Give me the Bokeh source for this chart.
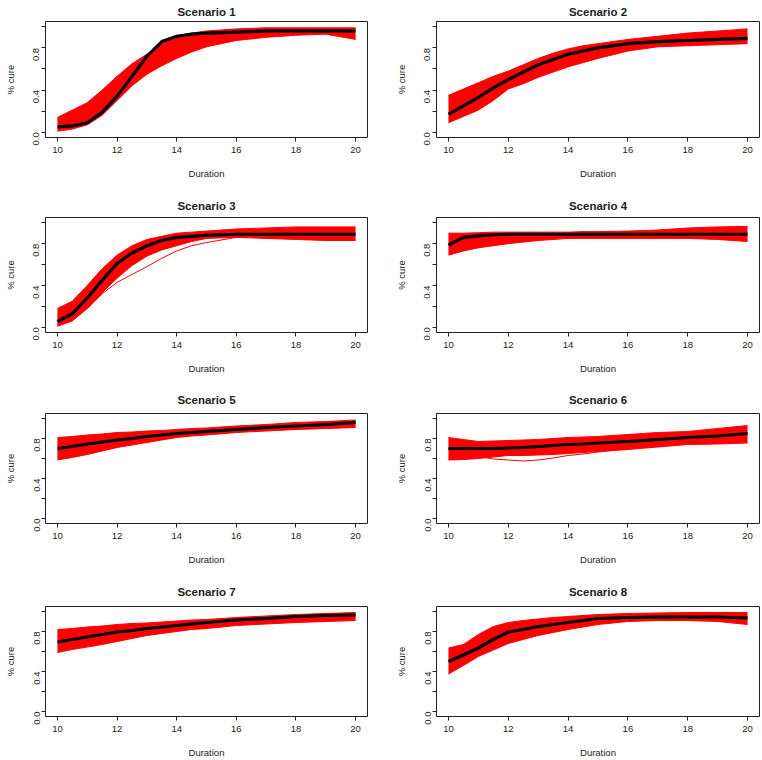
from bokeh.plotting import figure
from bokeh.layouts import column, row
from bokeh.models import FixedTicker, PrintfTickFormatter, Range1d
from bokeh.embed import file_html
from bokeh.resources import INLINE

# ---------------- data ----------------
duration = [10, 10.5, 11, 11.5, 12, 12.5, 13, 13.5, 14, 14.5, 15, 16, 17, 18, 19, 20]

s1_true  = [0.05, 0.06, 0.09, 0.19, 0.34, 0.53, 0.72, 0.86, 0.91, 0.93, 0.94, 0.95, 0.96, 0.96, 0.96, 0.96]
s1_upper = [0.14, 0.21, 0.28, 0.40, 0.53, 0.65, 0.74, 0.84, 0.91, 0.94, 0.96, 0.98, 0.99, 0.99, 0.99, 0.99]
s1_lower = [0.01, 0.03, 0.07, 0.16, 0.30, 0.44, 0.55, 0.63, 0.70, 0.76, 0.81, 0.87, 0.90, 0.92, 0.93, 0.88]

s2_true  = [0.17, 0.25, 0.33, 0.42, 0.50, 0.57, 0.64, 0.69, 0.74, 0.77, 0.80, 0.84, 0.86, 0.87, 0.88, 0.89]
s2_upper = [0.35, 0.41, 0.47, 0.53, 0.58, 0.64, 0.70, 0.75, 0.79, 0.82, 0.84, 0.88, 0.91, 0.94, 0.96, 0.98]
s2_lower = [0.09, 0.15, 0.21, 0.30, 0.41, 0.46, 0.52, 0.57, 0.62, 0.66, 0.70, 0.77, 0.81, 0.82, 0.83, 0.84]

s3_true  = [0.055, 0.13, 0.28, 0.45, 0.61, 0.71, 0.78, 0.83, 0.86, 0.87, 0.88, 0.89, 0.89, 0.89, 0.89, 0.89]
s3_upper = [0.18, 0.25, 0.40, 0.56, 0.69, 0.78, 0.84, 0.87, 0.90, 0.91, 0.92, 0.94, 0.95, 0.96, 0.96, 0.96]
s3_lower = [0.01, 0.06, 0.18, 0.33, 0.47, 0.59, 0.68, 0.74, 0.78, 0.82, 0.85, 0.86, 0.85, 0.84, 0.83, 0.83]
s3_outlier = [0.03, 0.08, 0.18, 0.32, 0.43, 0.505, 0.58, 0.66, 0.73, 0.78, 0.81, 0.86, 0.88, 0.89, 0.89, 0.89]

s4_true  = [0.785, 0.86, 0.875, 0.885, 0.89, 0.89, 0.89, 0.89, 0.89, 0.89, 0.89, 0.89, 0.89, 0.89, 0.89, 0.89]
s4_upper = [0.90, 0.90, 0.905, 0.91, 0.91, 0.91, 0.91, 0.91, 0.91, 0.915, 0.915, 0.92, 0.93, 0.95, 0.96, 0.965]
s4_lower = [0.69, 0.73, 0.76, 0.78, 0.80, 0.815, 0.83, 0.84, 0.85, 0.85, 0.85, 0.85, 0.85, 0.85, 0.84, 0.82]

s5_true  = [0.70, 0.72, 0.745, 0.765, 0.785, 0.80, 0.82, 0.835, 0.85, 0.86, 0.87, 0.89, 0.91, 0.925, 0.94, 0.96]
s5_upper = [0.81, 0.82, 0.835, 0.845, 0.86, 0.865, 0.875, 0.88, 0.89, 0.90, 0.905, 0.925, 0.94, 0.96, 0.97, 0.985]
s5_lower = [0.585, 0.61, 0.64, 0.675, 0.71, 0.735, 0.76, 0.785, 0.81, 0.825, 0.835, 0.86, 0.875, 0.89, 0.90, 0.91]

s6_true  = [0.70, 0.70, 0.70, 0.70, 0.705, 0.71, 0.72, 0.73, 0.74, 0.745, 0.755, 0.77, 0.79, 0.81, 0.825, 0.85]
s6_upper = [0.81, 0.79, 0.77, 0.775, 0.78, 0.785, 0.79, 0.80, 0.81, 0.815, 0.82, 0.84, 0.86, 0.87, 0.90, 0.93]
s6_lower = [0.585, 0.59, 0.60, 0.615, 0.63, 0.63, 0.635, 0.64, 0.65, 0.66, 0.67, 0.69, 0.715, 0.74, 0.745, 0.755]
s6_outlier = [0.70, 0.66, 0.62, 0.595, 0.585, 0.575, 0.585, 0.605, 0.63, 0.645, 0.665, 0.70, 0.74, 0.78, 0.81, 0.84]

s7_true  = [0.695, 0.72, 0.745, 0.77, 0.795, 0.81, 0.83, 0.845, 0.86, 0.875, 0.89, 0.915, 0.93, 0.95, 0.96, 0.965]
s7_upper = [0.82, 0.83, 0.845, 0.855, 0.87, 0.88, 0.885, 0.895, 0.905, 0.915, 0.92, 0.94, 0.955, 0.97, 0.98, 0.99]
s7_lower = [0.59, 0.62, 0.645, 0.67, 0.70, 0.73, 0.76, 0.78, 0.80, 0.82, 0.83, 0.86, 0.875, 0.89, 0.90, 0.91]

s8_true  = [0.50, 0.565, 0.635, 0.72, 0.795, 0.82, 0.85, 0.87, 0.89, 0.91, 0.93, 0.94, 0.945, 0.945, 0.945, 0.935]
s8_upper = [0.635, 0.67, 0.77, 0.85, 0.89, 0.91, 0.925, 0.94, 0.95, 0.96, 0.97, 0.98, 0.985, 0.99, 0.99, 0.99]
s8_lower = [0.375, 0.46, 0.55, 0.615, 0.68, 0.72, 0.76, 0.79, 0.82, 0.845, 0.87, 0.90, 0.91, 0.91, 0.90, 0.87]

titles = ["Scenario 1", "Scenario 2", "Scenario 3", "Scenario 4",
          "Scenario 5", "Scenario 6", "Scenario 7", "Scenario 8"]
x_ticks = [10, 12, 14, 16, 18, 20]
y_ticks_labelled = [0.0, 0.4, 0.8]
y_ticks_unlabelled = [0.2, 0.6, 1.0]
x_label = "Duration"
y_label = "% cure"

panels = [
    (s1_true, s1_upper, s1_lower, []),
    (s2_true, s2_upper, s2_lower, []),
    (s3_true, s3_upper, s3_lower, [s3_outlier]),
    (s4_true, s4_upper, s4_lower, []),
    (s5_true, s5_upper, s5_lower, []),
    (s6_true, s6_upper, s6_lower, [s6_outlier]),
    (s7_true, s7_upper, s7_lower, []),
    (s8_true, s8_upper, s8_lower, []),
]

# ---------------- layout / style ----------------
FONT = "Liberation Sans"
TXT = "#222222"
row_heights = [191, 193, 191, 185]
title_standoff = [7, 12, 15, 17]
bottom_border = [54, 52, 52, 44]
col_widths = [381, 381]
left_border = [45, 55]
right_border = [14, 3]


def make_panel(i):
    r, c = divmod(i, 2)
    true, upper, lower, outliers = panels[i]
    p = figure(width=col_widths[c], height=row_heights[r],
               x_range=Range1d(9.6, 20.4), y_range=Range1d(-0.05, 1.05),
               output_backend="svg", toolbar_location=None,
               min_border_left=left_border[c], min_border_right=right_border[c],
               min_border_top=0, min_border_bottom=bottom_border[r])
    p.title.text = titles[i]
    p.title.align = "center"
    p.title.text_font = FONT
    p.title.text_font_size = "11.5px"
    p.title.text_font_style = "bold"
    p.title.text_color = TXT
    p.title.standoff = title_standoff[r]

    p.varea(x=duration, y1=lower, y2=upper, fill_color="#ff0000", fill_alpha=1.0)
    p.line(duration, upper, line_color="#ff0000", line_width=1)
    p.line(duration, lower, line_color="#ff0000", line_width=1)
    for o in outliers:
        p.line(duration, o, line_color="#ff0000", line_width=1)
    p.line(duration, true, line_color="black", line_width=3.2, line_join="round")

    p.grid.visible = False
    p.outline_line_color = "#222222"
    p.outline_line_width = 1
    p.outline_line_alpha = 1
    p.background_fill_color = "white"
    p.border_fill_color = "white"

    xa = p.xaxis[0]
    xa.ticker = FixedTicker(ticks=x_ticks)
    xa.bounds = (10, 20)
    xa.axis_label = x_label
    ya = p.yaxis[0]
    ya.ticker = FixedTicker(ticks=y_ticks_labelled, minor_ticks=y_ticks_unlabelled)
    ya.formatter = PrintfTickFormatter(format="%.1f")
    ya.bounds = (0, 1)
    ya.axis_label = y_label
    ya.major_label_orientation = 1.5707963

    for ax in (xa, ya):
        ax.axis_line_color = "#222222"
        ax.major_tick_line_color = "#222222"
        ax.minor_tick_line_color = "#222222"
        ax.major_tick_out = 4
        ax.major_tick_in = 0
        ax.minor_tick_out = 4
        ax.minor_tick_in = 0
        ax.major_label_standoff = 5
        ax.major_label_text_font = FONT
        ax.major_label_text_font_size = "9.5px"
        ax.major_label_text_color = TXT
        ax.axis_label_text_font = FONT
        ax.axis_label_text_font_size = "9.5px"
        ax.axis_label_text_font_style = "normal"
        ax.axis_label_text_color = TXT
        ax.axis_label_standoff = 12
    return p


figs = [make_panel(i) for i in range(8)]
layout = column(*[row(figs[2 * r], figs[2 * r + 1]) for r in range(4)])

open("out.html", "w").write(file_html(layout, INLINE))
